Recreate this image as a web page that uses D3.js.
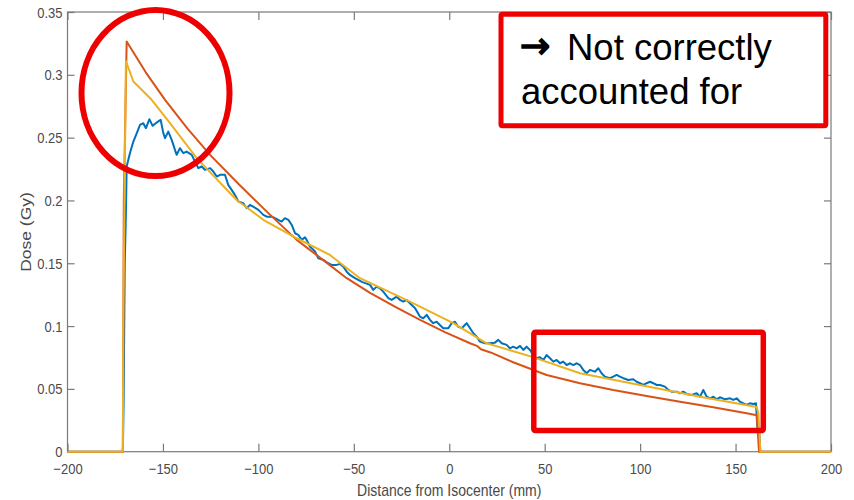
<!DOCTYPE html>
<html>
<head>
<meta charset="utf-8">
<script src="https://cdn.jsdelivr.net/npm/d3@7"></script>
<style>
  html, body { margin: 0; padding: 0; background: #fff; }
  svg { display: block; }
  text { font-family: "Liberation Sans", Arial, Helvetica, sans-serif; }
</style>
</head>
<body>
<svg id="chart" width="854" height="500"></svg>
<script>
// Depth-dose profiles along the beam axis: [distance (mm), dose (Gy)]
const measured = [
  [-200,0],[-171,0],[-170.6,0.04],[-170.0,0.15],[-169.4,0.19],[-169.0,0.227],[-167.3,0.2376],[-165.5,0.2469],
  [-163.7,0.2536],[-162.0,0.2602],[-160.3,0.2615],[-158.9,0.2575],[-157.1,0.2647],[-155.4,0.2594],
  [-153.3,0.2620],[-151.2,0.2642],[-149.8,0.2536],[-148.9,0.2496],[-147.2,0.2548],[-145.4,0.2482],
  [-143.7,0.2403],[-142.8,0.2363],[-141.1,0.2416],[-139.3,0.2376],[-137.6,0.2389],[-134.9,0.2363],
  [-133.2,0.2309],[-131.5,0.2257],[-129.7,0.2270],[-128.0,0.2243],[-125.3,0.2257],[-123.6,0.2230],
  [-121.8,0.2190],[-120.1,0.2204],[-117.5,0.2204],[-115.8,0.2124],[-114.0,0.2084],[-112.3,0.2044],
  [-110.5,0.1991],[-107.9,0.1978],[-106.1,0.1938],[-104.4,0.1965],[-102.7,0.1951],[-100.0,0.1925],
  [-97.4,0.1885],[-95.6,0.1871],[-93.0,0.1871],[-91.3,0.1859],[-89.6,0.1845],[-87.8,0.1832],
  [-86.1,0.1859],[-84.3,0.1845],[-82.5,0.1805],[-80.8,0.1739],[-79.1,0.1726],[-77.3,0.1686],
  [-75.6,0.1707],[-74.7,0.1686],[-73.0,0.1633],[-70.3,0.1593],[-68.6,0.1540],[-66.0,0.1527],
  [-63.4,0.1500],[-61.6,0.1487],[-59.0,0.1487],[-57.2,0.1495],[-55.5,0.1473],[-53.7,0.1433],
  [-52.0,0.1407],[-49.4,0.1381],[-45.5,0.1350],[-41.5,0.1328],[-39.8,0.1288],[-38.0,0.1314],
  [-36.3,0.1301],[-34.6,0.1274],[-31.9,0.1222],[-30.2,0.1208],[-27.5,0.1234],[-25.8,0.1208],
  [-24.1,0.1195],[-22.3,0.1208],[-20.6,0.1182],[-17.9,0.1142],[-15.3,0.1075],[-13.6,0.1062],
  [-11.8,0.1089],[-10.1,0.1049],[-8.4,0.1023],[-6.6,0.1035],[-4.9,0.1009],[-3.1,0.0983],
  [-0.5,0.0983],[1.3,0.1023],[3.0,0.1035],[4.7,0.0995],[6.5,0.0983],[9.1,0.1023],[10.9,0.0983],
  [12.6,0.0943],[14.4,0.0916],[16.1,0.0876],[18.7,0.0863],[21.3,0.0863],[23.9,0.0868],[25.7,0.0890],
  [27.5,0.0863],[30.1,0.0850],[31.8,0.0823],[33.5,0.0836],[35.3,0.0823],[37.1,0.0842],[38.8,0.0810],
  [40.5,0.0836],[42.3,0.0810],[44.0,0.0770],[45.7,0.0744],[47.5,0.0752],[49.3,0.0730],[51.0,0.0770],
  [52.8,0.0744],[54.5,0.0717],[56.3,0.0730],[58.0,0.0704],[59.7,0.0717],[61.5,0.0690],[63.3,0.0704],
  [65.0,0.0690],[66.8,0.0704],[68.5,0.0690],[70.2,0.0651],[72.0,0.0624],[73.7,0.0651],[76.3,0.0637],
  [78.1,0.0664],[79.8,0.0624],[81.6,0.0597],[84.2,0.0585],[85.9,0.0597],[87.7,0.0611],[89.4,0.0597],
  [91.2,0.0585],[93.8,0.0571],[96.4,0.0577],[98.2,0.0557],[99.9,0.0545],[101.7,0.0531],[103.4,0.0545],
  [105.2,0.0557],[106.9,0.0545],[108.7,0.0531],[110.4,0.0531],[113.0,0.0518],[114.8,0.0491],
  [116.5,0.0478],[119.1,0.0478],[120.9,0.0465],[122.6,0.0478],[124.4,0.0460],[127.0,0.0452],
  [129.6,0.0465],[131.4,0.0438],[133.1,0.0491],[134.9,0.0438],[136.6,0.0425],[138.4,0.0438],
  [140.1,0.0417],[141.8,0.0433],[144.5,0.0417],[147.1,0.0425],[148.8,0.0412],[150.6,0.0425],
  [152.3,0.0398],[154.1,0.0385],[155.8,0.0372],[157.6,0.0385],[159.3,0.0380],[160.7,0.0385],
  [161.4,0.0199],[162.4,0.016],[163.0,0],[200,0]
];

const calcA = [
  [-200,0],[-171,0],[-170.5,0.2],[-169,0.3265],[-159,0.3020],[-148.9,0.2801],[-137,0.2570],
  [-125.3,0.2363],[-110,0.2125],[-95.6,0.1911],[-79.9,0.1686],[-66,0.1525],[-53.7,0.1381],
  [-41.5,0.1264],[-28,0.1150],[-15.3,0.1049],[-2,0.0950],[10.9,0.0863],[14.8,0.0840],
  [16.6,0.0815],[22,0.0788],[33.5,0.0712],[51.0,0.0611],[68.5,0.0545],[85.9,0.0491],
  [103.4,0.0444],[120.9,0.0398],[138.3,0.0354],[155.8,0.0306],[161.1,0.0290],[162.3,0],[200,0]
];

const calcB = [
  [-200,0],[-171,0],[-170.8,0.1],[-169.4,0.3110],[-165.5,0.2947],[-155.9,0.2801],[-146.3,0.2615],
  [-132.3,0.2337],[-111.4,0.2004],[-97.4,0.1846],[-79.9,0.1699],[-62.5,0.1566],[-46.8,0.1381],
  [-20.6,0.1195],[2.1,0.1023],[19.6,0.0863],[43.0,0.0757],[68.5,0.0624],[99.9,0.0531],
  [131.4,0.0438],[161.1,0.0356],[162.0,0.030],[163.0,0],[200,0]
];

const xTicks = [-200, -150, -100, -50, 0, 50, 100, 150, 200];
const yTicks = [0, 0.05, 0.1, 0.15, 0.2, 0.25, 0.3, 0.35];
const yTickLabels = ["0", "0.05", "0.1", "0.15", "0.2", "0.25", "0.3", "0.35"];

const svg = d3.select("#chart");
const plotLeft = 67.5, plotRight = 831, plotTop = 12, plotBottom = 451.7;
const x = d3.scaleLinear().domain([-200, 200]).range([plotLeft, plotRight]);
const y = d3.scaleLinear().domain([0, 0.35]).range([plotBottom, plotTop]);
const stretch = 1.15;
const axisGrey = "#7a7a7a";
const labelGrey = "#4a4a4a";

// plot box
svg.append("rect")
  .attr("x", plotLeft).attr("y", plotTop)
  .attr("width", plotRight - plotLeft).attr("height", plotBottom - plotTop)
  .attr("fill", "#fff").attr("stroke", axisGrey).attr("stroke-width", 1.2);

// ticks on all four sides, pointing inward
function styleAxis(g) {
  g.select(".domain").remove();
  g.selectAll(".tick line").attr("stroke", axisGrey).attr("stroke-width", 1.2);
}

const gx = svg.append("g").attr("transform", `translate(0,${plotBottom})`)
  .call(d3.axisBottom(x).tickValues(xTicks).tickSize(-8).tickFormat(d3.format("d")));
styleAxis(gx);
gx.selectAll(".tick text")
  .attr("y", 0).attr("dy", null)
  .attr("fill", labelGrey)
  .style("font-size", "13px")
  .attr("transform", `translate(0,22) scale(1,${stretch})`);

svg.append("g").attr("transform", `translate(0,${plotTop})`)
  .call(d3.axisTop(x).tickValues(xTicks).tickSize(-8).tickFormat(""))
  .call(styleAxis);

const gy = svg.append("g").attr("transform", `translate(${plotLeft},0)`)
  .call(d3.axisLeft(y).tickValues(yTicks).tickSize(-7).tickFormat((d, i) => yTickLabels[i]));
styleAxis(gy);
gy.selectAll(".tick text")
  .attr("x", 0).attr("dy", null)
  .attr("text-anchor", "end")
  .attr("fill", labelGrey)
  .style("font-size", "13px")
  .attr("transform", `translate(-5,5) scale(1,${stretch})`);

svg.append("g").attr("transform", `translate(${plotRight},0)`)
  .call(d3.axisRight(y).tickValues(yTicks).tickSize(-7).tickFormat(""))
  .call(styleAxis);

// axis titles
svg.append("text")
  .attr("text-anchor", "middle")
  .attr("fill", labelGrey)
  .style("font-size", "14px")
  .attr("transform", `translate(${(plotLeft + plotRight) / 2},496) scale(1,${stretch})`)
  .text("Distance from Isocenter (mm)");

svg.append("text")
  .attr("text-anchor", "middle")
  .attr("fill", labelGrey)
  .style("font-size", "14px")
  .attr("transform", `translate(31,232) rotate(-90) scale(1.25,1)`)
  .text("Dose (Gy)");

// dose curves (piecewise linear, as sampled)
const line = d3.line().x(d => x(d[0])).y(d => y(d[1]));

const plot = svg.append("g");
plot.append("path").datum(measured)
  .attr("d", line).attr("fill", "none")
  .attr("stroke", "#0072BD").attr("stroke-width", 2).attr("stroke-linejoin", "round");
plot.append("path").datum(calcA)
  .attr("d", line).attr("fill", "none")
  .attr("stroke", "#D95319").attr("stroke-width", 2).attr("stroke-linejoin", "round");
plot.append("path").datum(calcB)
  .attr("d", line).attr("fill", "none")
  .attr("stroke", "#EDB120").attr("stroke-width", 2).attr("stroke-linejoin", "round");

// highlights
const red = "#ee0000";
svg.append("ellipse")
  .attr("cx", 155.5).attr("cy", 93).attr("rx", 74).attr("ry", 83)
  .attr("fill", "none").attr("stroke", red).attr("stroke-width", 6);

svg.append("rect")
  .attr("x", 533.8).attr("y", 332.2).attr("width", 229.5).attr("height", 98.3)
  .attr("fill", "none").attr("stroke", red).attr("stroke-width", 5.5)
  .attr("rx", 1.5);

svg.append("rect")
  .attr("x", 501).attr("y", 14.2).attr("width", 324.8).attr("height", 111.6)
  .attr("fill", "#fff").attr("stroke", red).attr("stroke-width", 5)
  .attr("rx", 1.5);

svg.append("text")
  .attr("x", 520).attr("y", 58)
  .attr("fill", "#000")
  .attr("stroke", "#000").attr("stroke-width", 1.6)
  .style("font-family", "'DejaVu Sans', sans-serif")
  .style("font-size", "36px")
  .text("→");
svg.append("text")
  .attr("x", 567).attr("y", 60)
  .attr("fill", "#000").style("font-size", "36.5px")
  .text("Not correctly");
svg.append("text")
  .attr("x", 521).attr("y", 104)
  .attr("fill", "#000").style("font-size", "36.5px")
  .text("accounted for");
</script>
</body>
</html>
